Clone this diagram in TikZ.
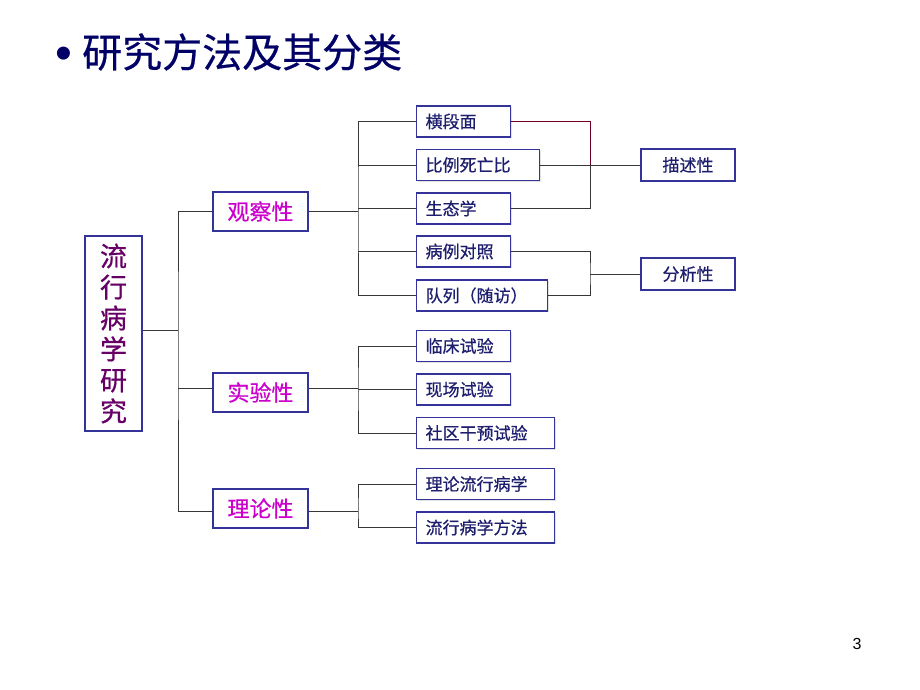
\documentclass[tikz,border=0pt]{standalone}
\usepackage{fontspec}
\setmainfont{Noto Sans CJK SC}[FakeBold=0.6]
\newfontfamily\numfont{Liberation Sans}
\usetikzlibrary{shadows}

\definecolor{titleblue}{RGB}{0,0,102}
\definecolor{boxblue}{RGB}{51,51,153}
\definecolor{leafblue}{RGB}{30,30,110}
\definecolor{catpink}{RGB}{204,0,204}
\definecolor{rootpurple}{RGB}{102,0,102}
\definecolor{linegray}{RGB}{55,55,55}
\definecolor{linered}{RGB}{110,0,40}

\tikzset{
    box/.style={draw=boxblue, line width=1.2pt, fill=white,
        drop shadow={shadow xshift=1pt, shadow yshift=-1pt, fill=gray!45}},
    rootbox/.style={box, minimum width=57pt, minimum height=195pt, inner sep=0pt,
        align=center, text=rootpurple, font=\fontsize{27}{31}\selectfont},
    cat/.style={box, minimum width=95pt, minimum height=39pt, inner sep=0pt,
        text=catpink, font=\fontsize{22}{24}\selectfont},
    leaf/.style={box, anchor=west, minimum height=31pt, inner xsep=9pt, inner ysep=0pt,
        text width=#1, align=left, text=leafblue, font=\fontsize{17}{19}\selectfont},
    kind/.style={box, minimum width=94pt, minimum height=32pt, inner sep=0pt,
        text=leafblue, font=\fontsize{17}{19}\selectfont},
    conn/.style={draw=linegray, line width=0.8pt}
}

\begin{document}
\begin{tikzpicture}[x=1pt, y=-1pt]
    \useasboundingbox (0,0) rectangle (920,690);

    % title
    \node[anchor=base, inner sep=0pt] at (64,70) (bullet)
        {\numfont\fontsize{48}{50}\selectfont\textcolor{titleblue}{•}};
    \node[anchor=west, inner sep=0pt, text=titleblue, font=\fontsize{40}{44}\selectfont]
        at (82,52) (title) {研究方法及其分类};

    % root and categories
    \node[rootbox] at (113.5,333.5) (root) {流\\行\\病\\学\\研\\究};
    \node[cat] at (260.5,211.5) (obs)  {观察性};
    \node[cat] at (260.5,392.5) (exp)  {实验性};
    \node[cat] at (260.5,508.5) (theo) {理论性};

    % leaves
    \node[leaf=76pt]  at (416,121.5) (cross)  {横段面};
    \node[leaf=105pt] at (416,165)   (ratio)  {比例死亡比};
    \node[leaf=76pt]  at (416,208.5) (eco)    {生态学};
    \node[leaf=76pt]  at (416,251.5) (case)   {病例对照};
    \node[leaf=113pt] at (416,295.5) (cohort) {队列（随访）};
    \node[leaf=76pt]  at (416,346)   (clin)   {临床试验};
    \node[leaf=76pt]  at (416,389.5) (field)  {现场试验};
    \node[leaf=120pt] at (416,433)   (comm)   {社区干预试验};
    \node[leaf=120pt] at (416,484)   (tepi)   {理论流行病学};
    \node[leaf=120pt] at (416,527.5) (meth)   {流行病学方法};

    % right side
    \node[kind] at (688,165) (desc) {描述性};
    \node[kind] at (688,274) (ana)  {分析性};

    \node at (857,644) (page) {\numfont\fontsize{16}{18}\selectfont 3};

    % branch points
    \coordinate (trunk) at (178,330);
    \coordinate (obsB)  at (358,211);
    \coordinate (expB)  at (358,388);
    \coordinate (theoB) at (358,511);
    \coordinate (descB) at (590,165);
    \coordinate (anaB)  at (590,274);

    \draw[conn] (root.east |- trunk) -- (trunk);
    \draw[conn] (obs.west |- obsB) -| (trunk) |- (theo.west |- theoB);
    \draw[conn] (exp.west |- expB) -- (trunk |- expB);

    \draw[conn] (obs.east |- obsB) -- (obsB);
    \draw[conn] (cross.west) -| (obsB) |- (cohort.west);
    \draw[conn] (ratio.west) -- (ratio.west -| obsB);
    \draw[conn] (eco.west) -- (eco.west -| obsB);
    \draw[conn] (case.west) -- (case.west -| obsB);

    \draw[conn] (exp.east |- expB) -- (expB);
    \draw[conn] (clin.west) -| (expB) |- (comm.west);
    \draw[conn] (field.west) -- (field.west -| expB);

    \draw[conn] (theo.east |- theoB) -- (theoB);
    \draw[conn] (tepi.west) -| (theoB) |- (meth.west);

    \draw[conn, draw=linered] (cross.east) -| (descB);
    \draw[conn] (eco.east) -| (descB);
    \draw[conn] (ratio.east) -- (desc.west);

    \draw[conn] (case.east) -| (anaB) |- (cohort.east);
    \draw[conn] (anaB) -- (ana.west);
\end{tikzpicture}
\end{document}
